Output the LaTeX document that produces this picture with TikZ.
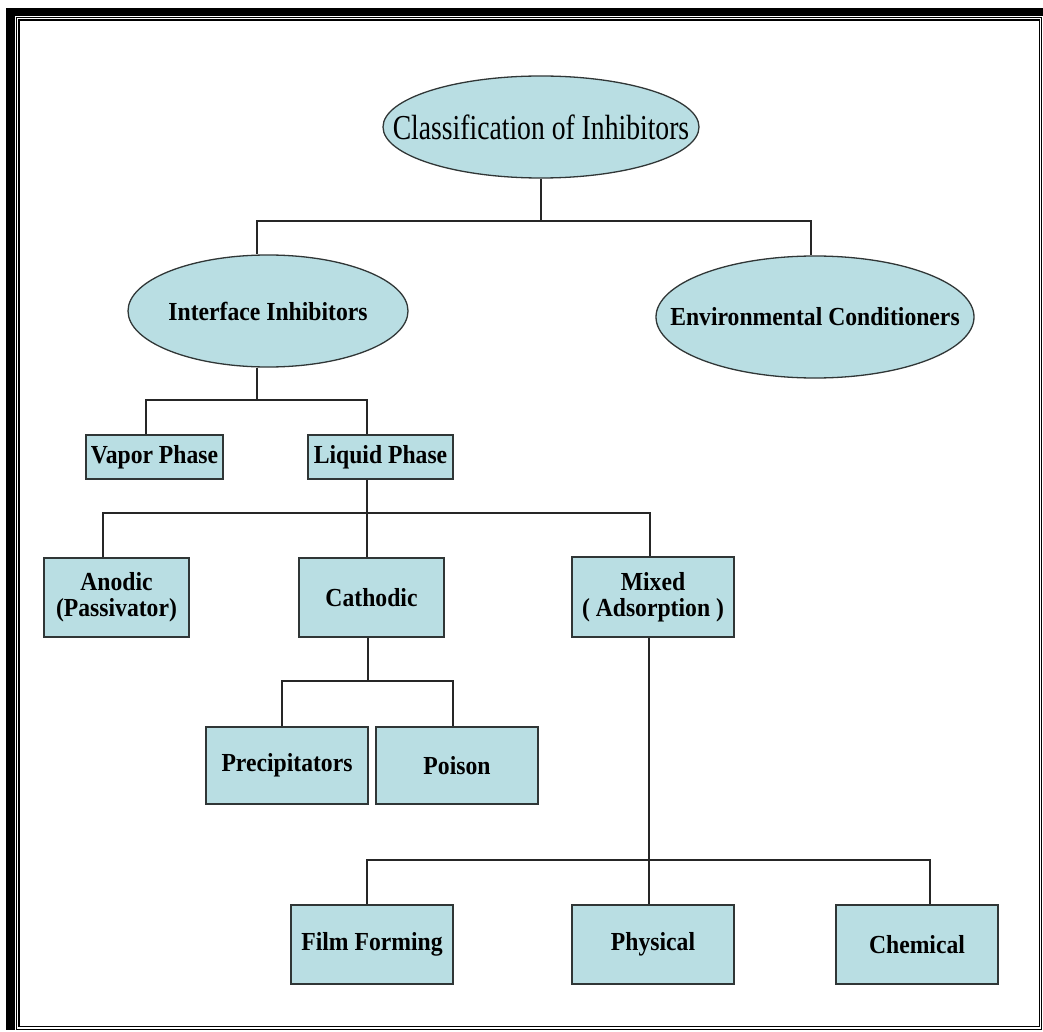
\documentclass[tikz,border=0pt]{standalone}
\usepackage{fontspec}
\setmainfont{Liberation Serif}
\newfontfamily\labfont[FakeStretch=0.91]{Liberation Serif}
\newfontfamily\titfont[FakeStretch=0.79]{Liberation Serif}
\usetikzlibrary{shapes.geometric,calc}
\definecolor{boxfill}{HTML}{B9DEE3}
\definecolor{edgec}{HTML}{303636}
\begin{document}
\begin{tikzpicture}[x=1pt,y=-1pt,
  lab/.style={font=\labfont\bfseries\fontsize{26}{26}\selectfont, align=center, inner sep=0pt},
  box/.style={rectangle, draw=edgec, line width=1.3pt, fill=boxfill, inner sep=0pt, lab},
  ell/.style={ellipse, draw=edgec, line width=1.3pt, fill=boxfill, inner sep=0pt},
  conn/.style={draw=black!85, line width=1.4pt}]
\useasboundingbox (0,0) rectangle (1043,1032);
\fill[white] (0,0) rectangle (1043,1032);
% page frame
\fill[black] (6,8) rectangle (15,1030);
\fill[black] (6,8) rectangle (1043,16);
\draw[line width=1.2pt] (16.5,17.5) rectangle (1041.5,1029.5);
\draw[line width=1.4pt] (19,20) rectangle (1039.5,1026.5);
% ellipse nodes (shape) and their texts
\node[ell, minimum width=316pt, minimum height=102pt] (title) at (541,127) {};
\node[font=\titfont\fontsize{35}{36}\selectfont, inner sep=0pt] (titletext) at (title) {Classification of Inhibitors};
\node[ell, minimum width=280pt, minimum height=112pt] (ifc) at (268,311) {};
\node[lab] (ifctext) at (ifc) {Interface Inhibitors};
\node[ell, minimum width=318pt, minimum height=122pt] (env) at (815,317) {};
\node[lab] (envtext) at (env) {Environmental Conditioners};
% box nodes
\node[box, minimum width=137pt, minimum height=44pt] (vap) at (154.5,457) {Vapor Phase};
\node[box, minimum width=145pt, minimum height=44pt] (liq) at (380.5,457) {Liquid Phase};
\node[box, minimum width=145pt, minimum height=79pt] (ano) at (116.5,597.5) {Anodic\\(Passivator)};
\node[box, minimum width=145pt, minimum height=79pt] (cat) at (371.5,597.5) {Cathodic};
\node[box, minimum width=162pt, minimum height=80pt] (mix) at (653,597) {Mixed\\( Adsorption )};
\node[box, minimum width=162pt, minimum height=77pt] (pre) at (287,765.5) {Precipitators};
\node[box, minimum width=162pt, minimum height=77pt] (poi) at (457,765.5) {Poison};
\node[box, minimum width=162pt, minimum height=79pt] (fil) at (372,944.5) {Film Forming};
\node[box, minimum width=162pt, minimum height=79pt] (phy) at (653,944.5) {Physical};
\node[box, minimum width=162pt, minimum height=79pt] (che) at (917,944.5) {Chemical};
% bus junctions
\coordinate (b1) at (541,221);
\coordinate (b2) at (257,400);
\coordinate (b3) at (367,513);
\coordinate (b4) at (368,681);
\coordinate (b5) at (649,860);
% connectors
\draw[conn] (title.south) -- (b1);
\draw[conn] ($(ifc.north)+(-11,0)$) |- (b1) -| ($(env.north)+(-4,0)$);
\draw[conn] ($(ifc.south)+(-11,0)$) -- (b2);
\draw[conn] ($(vap.north)+(-8.5,0)$) |- (b2) -| ($(liq.north)+(-13.5,0)$);
\draw[conn] ($(liq.south)+(-13.5,0)$) -- (b3);
\draw[conn] ($(ano.north)+(-13.5,0)$) |- (b3) -| ($(mix.north)+(-3,0)$);
\draw[conn] (b3) -- ($(cat.north)+(-4.5,0)$);
\draw[conn] ($(cat.south)+(-3.5,0)$) -- (b4);
\draw[conn] ($(pre.north)+(-5,0)$) |- (b4) -| ($(poi.north)+(-4,0)$);
\draw[conn] ($(mix.south)+(-4,0)$) -- (b5);
\draw[conn] ($(fil.north)+(-5,0)$) |- (b5) -| ($(che.north)+(13,0)$);
\draw[conn] (b5) -- ($(phy.north)+(-4,0)$);
\end{tikzpicture}
\end{document}
